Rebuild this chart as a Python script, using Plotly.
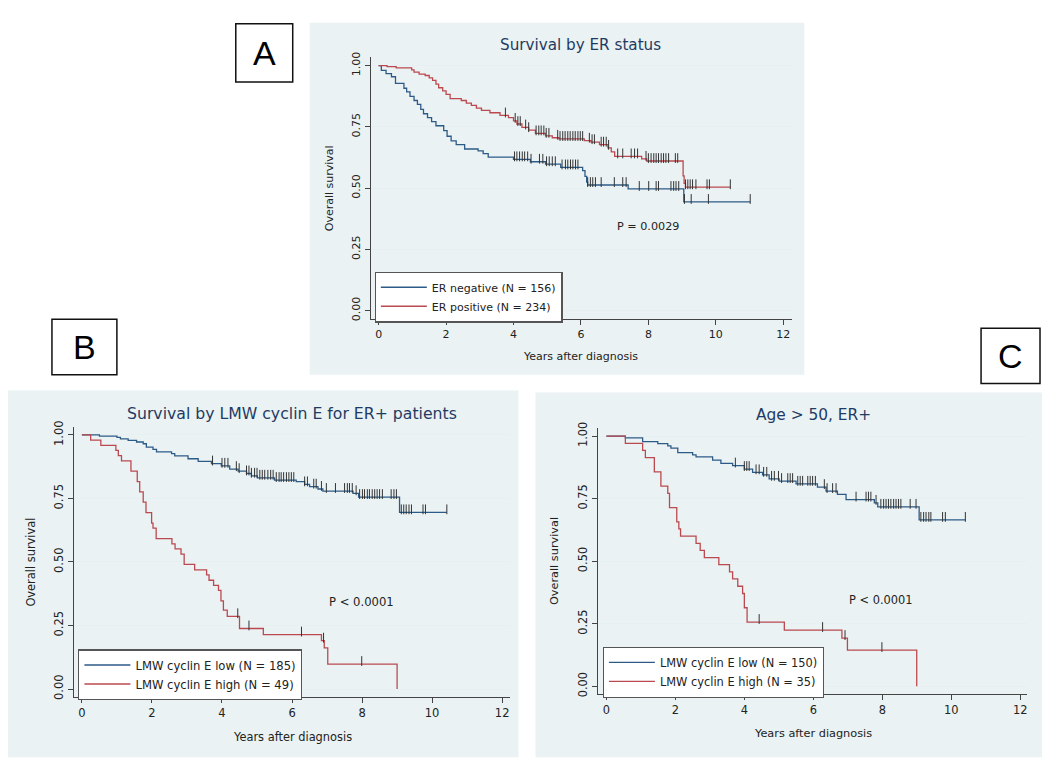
import numpy as np
import plotly.graph_objects as go

W, H = 1050, 771
FONT = "DejaVu Sans"
BLUE = "#2d5b88"
RED = "#bb4a50"

# ---- Panel A: Survival by ER status (event times, survival after each event, censor times)
a_neg_t = [0.08, 0.22, 0.38, 0.50, 0.75, 0.83, 0.93, 1.05, 1.15, 1.25, 1.33, 1.45, 1.57, 1.70,
           1.93, 2.03, 2.15, 2.30, 2.55, 2.95, 3.10, 3.25, 4.00, 4.50, 4.95, 5.40, 6.05, 6.12,
           6.17, 6.20, 7.40, 9.05]
a_neg_s = [0.981, 0.968, 0.955, 0.928, 0.908, 0.893, 0.875, 0.858, 0.842, 0.822, 0.804, 0.788,
           0.772, 0.755, 0.735, 0.712, 0.693, 0.678, 0.660, 0.652, 0.641, 0.627, 0.618, 0.608,
           0.598, 0.585, 0.572, 0.548, 0.525, 0.513, 0.497, 0.444]
a_neg_cens = [4.03, 4.10, 4.18, 4.26, 4.33, 4.42, 4.52, 4.77, 4.87, 4.98, 5.06, 5.15, 5.24, 5.44,
              5.54, 5.61, 5.69, 5.76, 5.84, 5.91, 6.20, 6.28, 6.35, 6.43, 6.60, 6.99, 7.24, 7.34,
              7.73, 8.01, 8.23, 8.30, 8.67, 8.75, 8.82, 8.90, 9.07, 9.27, 9.78, 11.02]
a_neg_end = 11.02

a_pos_t = [0.25, 0.52, 0.98, 1.05, 1.20, 1.38, 1.50, 1.60, 1.70, 1.78, 1.90, 2.00, 2.12, 2.45,
           2.60, 2.75, 2.90, 3.05, 3.30, 3.60, 3.85, 4.00, 4.10, 4.25, 4.45, 4.65, 4.95, 5.15,
           5.35, 6.10, 6.30, 6.55, 6.80, 6.90, 7.00, 7.80, 7.95, 9.03, 9.06, 9.10]
a_pos_s = [0.996, 0.991, 0.983, 0.974, 0.966, 0.960, 0.950, 0.940, 0.925, 0.910, 0.897, 0.883,
           0.866, 0.858, 0.847, 0.838, 0.827, 0.818, 0.808, 0.797, 0.788, 0.775, 0.762, 0.748,
           0.737, 0.724, 0.714, 0.706, 0.701, 0.694, 0.688, 0.678, 0.665, 0.648, 0.630, 0.620,
           0.611, 0.550, 0.520, 0.504]
a_pos_cens = [3.76, 4.05, 4.13, 4.20, 4.36, 4.45, 4.67, 4.75, 4.82, 4.90, 4.97, 5.05, 5.31, 5.38,
              5.46, 5.53, 5.61, 5.68, 5.76, 5.83, 5.91, 5.98, 6.05, 6.25, 6.33, 6.40, 6.60, 6.67,
              6.75, 6.82, 7.09, 7.24, 7.49, 7.59, 7.68, 7.93, 8.00, 8.08, 8.16, 8.23, 8.30, 8.38,
              8.45, 8.52, 8.60, 8.80, 8.87, 9.10, 9.17, 9.24, 9.31, 9.41, 9.74, 9.81, 10.43]
a_pos_end = 10.43

# ---- Panel B: Survival by LMW cyclin E for ER+ patients
b_low_t = [0.50, 1.00, 1.10, 1.32, 1.56, 1.75, 1.84, 2.03, 2.13, 2.56, 2.65, 3.03, 3.32, 3.70,
           3.98, 4.22, 4.46, 4.70, 4.84, 5.01, 5.50, 6.12, 6.36, 6.50, 6.74, 6.88, 7.74, 7.90, 9.07]
b_low_s = [0.995, 0.990, 0.984, 0.978, 0.972, 0.965, 0.952, 0.943, 0.933, 0.926, 0.917, 0.906,
           0.896, 0.887, 0.878, 0.865, 0.857, 0.848, 0.839, 0.831, 0.822, 0.816, 0.805, 0.796,
           0.787, 0.779, 0.770, 0.755, 0.695]
b_low_cens = [3.73, 4.00, 4.08, 4.17, 4.41, 4.49, 4.70, 4.77, 4.84, 4.93, 5.00, 5.08, 5.15, 5.22,
              5.31, 5.39, 5.46, 5.55, 5.63, 5.69, 5.76, 5.84, 5.91, 5.98, 6.05, 6.36, 6.44, 6.62,
              6.69, 6.84, 6.98, 7.24, 7.50, 7.58, 7.64, 7.72, 7.83, 7.93, 8.01, 8.07, 8.15, 8.21,
              8.29, 8.36, 8.43, 8.50, 8.58, 8.83, 8.91, 8.98, 9.12, 9.19, 9.26, 9.34, 9.41, 9.74,
              9.81, 10.42]
b_low_end = 10.42

b_high_t = [0.25, 0.54, 0.97, 1.04, 1.13, 1.40, 1.58, 1.65, 1.75, 1.83, 1.99, 2.03, 2.12, 2.57,
            2.66, 2.83, 2.92, 3.22, 3.56, 3.63, 3.76, 3.90, 3.97, 4.04, 4.15, 4.50, 5.18, 6.84,
            6.92, 7.02, 9.00]
b_high_s = [0.979, 0.959, 0.939, 0.918, 0.898, 0.857, 0.816, 0.776, 0.735, 0.694, 0.653, 0.633,
            0.592, 0.571, 0.551, 0.531, 0.490, 0.469, 0.449, 0.428, 0.408, 0.388, 0.347, 0.310,
            0.286, 0.238, 0.214, 0.190, 0.162, 0.098, 0.000]
b_high_cens = [4.45, 4.77, 6.27, 6.90, 7.99]
b_high_end = 9.00

# ---- Panel C: Age > 50, ER+
c_low_t = [0.55, 1.05, 1.49, 1.78, 1.87, 2.07, 2.50, 2.60, 3.08, 3.32, 3.66, 4.00, 4.24, 4.53,
           4.72, 5.01, 5.50, 6.12, 6.37, 6.70, 6.95, 7.77, 7.87, 9.07]
c_low_s = [0.993, 0.978, 0.970, 0.961, 0.952, 0.934, 0.925, 0.917, 0.904, 0.891, 0.882, 0.868,
           0.855, 0.845, 0.829, 0.820, 0.809, 0.796, 0.780, 0.767, 0.746, 0.733, 0.717, 0.665]
c_low_cens = [3.74, 4.00, 4.07, 4.14, 4.34, 4.43, 4.56, 4.65, 4.79, 4.87, 4.99, 5.08, 5.26, 5.33,
              5.40, 5.55, 5.62, 5.69, 5.84, 5.91, 5.98, 6.06, 6.32, 6.40, 6.56, 6.66, 7.24, 7.53,
              7.60, 7.67, 7.82, 7.96, 8.04, 8.11, 8.18, 8.25, 8.33, 8.40, 8.47, 8.54, 8.81, 8.98,
              9.12, 9.20, 9.27, 9.35, 9.41, 9.75, 9.83, 10.41]
c_low_end = 10.41

c_high_t = [0.55, 1.05, 1.13, 1.39, 1.58, 1.78, 1.83, 2.04, 2.10, 2.15, 2.60, 2.72, 2.84, 3.26,
            3.57, 3.66, 3.81, 3.95, 4.00, 4.08, 5.16, 6.83, 6.99, 9.00]
c_high_s = [0.971, 0.943, 0.914, 0.857, 0.800, 0.771, 0.714, 0.657, 0.629, 0.600, 0.571, 0.543,
            0.514, 0.486, 0.457, 0.429, 0.400, 0.371, 0.314, 0.257, 0.225, 0.193, 0.145, 0.000]
c_high_cens = [4.43, 6.27, 6.92, 7.99]
c_high_end = 9.00

x_ticks = [0, 2, 4, 6, 8, 10, 12]
y_ticks = [0, 0.25, 0.5, 0.75, 1.0]


def surv_at(t_ev, s_ev, tc):
    idx = np.searchsorted(np.array(t_ev), np.array(tc), side="right")
    levels = np.concatenate([[1.0], s_ev])
    return levels[idx]


def km_traces(t_ev, s_ev, cens, end, name, color, xa, ya, legend):
    xs = [0] + list(t_ev) + [end]
    ys = [1.0] + list(s_ev) + [s_ev[-1]]
    line = go.Scatter(x=xs, y=ys, mode="lines", line=dict(color=color, width=1.3, shape="hv"),
                      name=name, xaxis=xa, yaxis=ya, legend=legend)
    marks = go.Scatter(x=cens, y=surv_at(t_ev, s_ev, cens) + 0.012, mode="markers",
                       marker=dict(symbol="line-ns", size=7, line=dict(width=1, color="#333")),
                       showlegend=False, xaxis=xa, yaxis=ya, hoverinfo="skip")
    return [line, marks]


fig = go.Figure()
for tr in (km_traces(a_neg_t, a_neg_s, a_neg_cens, a_neg_end, "ER negative (N = 156)", BLUE, "x", "y", "legend")
           + km_traces(a_pos_t, a_pos_s, a_pos_cens, a_pos_end, "ER positive (N = 234)", RED, "x", "y", "legend")
           + km_traces(b_low_t, b_low_s, b_low_cens, b_low_end, "LMW cyclin E low (N = 185)", BLUE, "x2", "y2", "legend2")
           + km_traces(b_high_t, b_high_s, b_high_cens, b_high_end, "LMW cyclin E high (N = 49)", RED, "x2", "y2", "legend2")
           + km_traces(c_low_t, c_low_s, c_low_cens, c_low_end, "LMW cyclin E low (N = 150)", BLUE, "x3", "y3", "legend3")
           + km_traces(c_high_t, c_high_s, c_high_cens, c_high_end, "LMW cyclin E high (N = 35)", RED, "x3", "y3", "legend3")):
    fig.add_trace(tr)


def px(v):
    return v / W


def py(v):
    return 1 - v / H


# panel geometry in pixels: (plot left, right, top, bottom), x range, y range, small font size
panels = {
    "": dict(box=(371, 792.7, 52, 316.7), xr=[-0.237, 12.258], yr=[-0.034, 1.034], fs=11),
    "2": dict(box=(74, 510, 425.7, 699.3), xr=[-0.228, 12.21], yr=[-0.032, 1.032], fs=11.5),
    "3": dict(box=(598.3, 1027.7, 427, 696), xr=[-0.252, 12.19], yr=[-0.030, 1.032], fs=11.4),
}
for k, p in panels.items():
    l, r, t, b = p["box"]
    tickfont = dict(family=FONT, size=p["fs"], color="#222")
    fig.layout["xaxis" + k] = dict(
        domain=[px(l), px(r)], range=p["xr"], anchor="y" + k, tickvals=x_ticks,
        showgrid=False, zeroline=False, showline=True, linecolor="#444", linewidth=1,
        ticks="outside", ticklen=5, tickcolor="#444", tickfont=tickfont)
    fig.layout["yaxis" + k] = dict(
        domain=[py(b), py(t)], range=p["yr"], anchor="x" + k, tickvals=y_ticks,
        tickformat=".2f", tickangle=-90, showgrid=True, gridcolor="#e6eff1", gridwidth=1,
        zeroline=False, showline=True, linecolor="#444", linewidth=1,
        ticks="outside", ticklen=5, tickcolor="#444", tickfont=tickfont)

shapes = []
# light panel backgrounds
for x0, x1, y0, y1 in [(310, 805, 17, 373), (8, 519, 389, 760), (536, 1043, 391, 760)]:
    shapes.append(dict(type="rect", xref="paper", yref="paper", x0=px(x0), x1=px(x1),
                       y0=py(y1), y1=py(y0), fillcolor="#eaf2f3", line=dict(width=0), layer="below"))
# panel letter boxes
for x0, x1, y0, y1 in [(236, 293, 18, 77), (52, 117, 317, 373), (982, 1041, 326, 382)]:
    shapes.append(dict(type="rect", xref="paper", yref="paper", x0=px(x0), x1=px(x1),
                       y0=py(y1), y1=py(y0), fillcolor="white", line=dict(color="#111", width=1.5)))

ann = []


def note(x, y, text, size=11, color="#222", angle=0, family=FONT):
    ann.append(dict(x=px(x), y=py(y), xref="paper", yref="paper", text=text, showarrow=False,
                    xanchor="center", yanchor="middle", textangle=angle,
                    font=dict(family=family, size=size, color=color)))


for x, y, s in [(264.5, 48, "A"), (84.5, 345, "B"), (1011.5, 354, "C")]:
    note(x, y, s, size=34, color="#000", family="Liberation Sans")

title_col = "#1f3b63"
note(581.5, 39, "Survival by ER status", 15.2, title_col)
note(292, 412.7, "Survival by LMW cyclin E for ER+ patients", 15.7, title_col)
note(814, 414, "Age > 50, ER+", 15.4, title_col)

for x, y, fs in [(581.5, 354.3, 11), (292.5, 739.3, 11.4), (813.5, 735.7, 11.3)]:
    note(x, y, "Years after diagnosis", fs)
for x, y, fs in [(329.3, 184.4, 11), (30.7, 562.5, 11.4), (555.7, 561.5, 11.3)]:
    note(x, y, "Overall survival", fs, angle=-90)

note(648.7, 222.7, "P = 0.0029", 11.2)
note(361.7, 602.7, "P < 0.0001", 11.6)
note(881.7, 601, "P < 0.0001", 11.4)

legend_style = dict(xanchor="left", yanchor="top", bgcolor="white", bordercolor="#555",
                    borderwidth=1.2, tracegroupgap=0, itemwidth=46)

fig.update_layout(
    width=W, height=H, margin=dict(l=0, r=0, t=0, b=0),
    paper_bgcolor="white", plot_bgcolor="white",
    shapes=shapes, annotations=ann,
    legend=dict(x=px(375), y=py(268.7), font=dict(family=FONT, size=11, color="#222"), **legend_style),
    legend2=dict(x=px(78.3), y=py(650.9), font=dict(family=FONT, size=11.6, color="#222"), **legend_style),
    legend3=dict(x=px(603.3), y=py(648.3), font=dict(family=FONT, size=11.4, color="#222"), **legend_style),
)

# drop the default page margin so the figure sits at the window origin
fig.write_html("out.html", config={"displayModeBar": False},
               post_script="document.body.style.margin='0';")
